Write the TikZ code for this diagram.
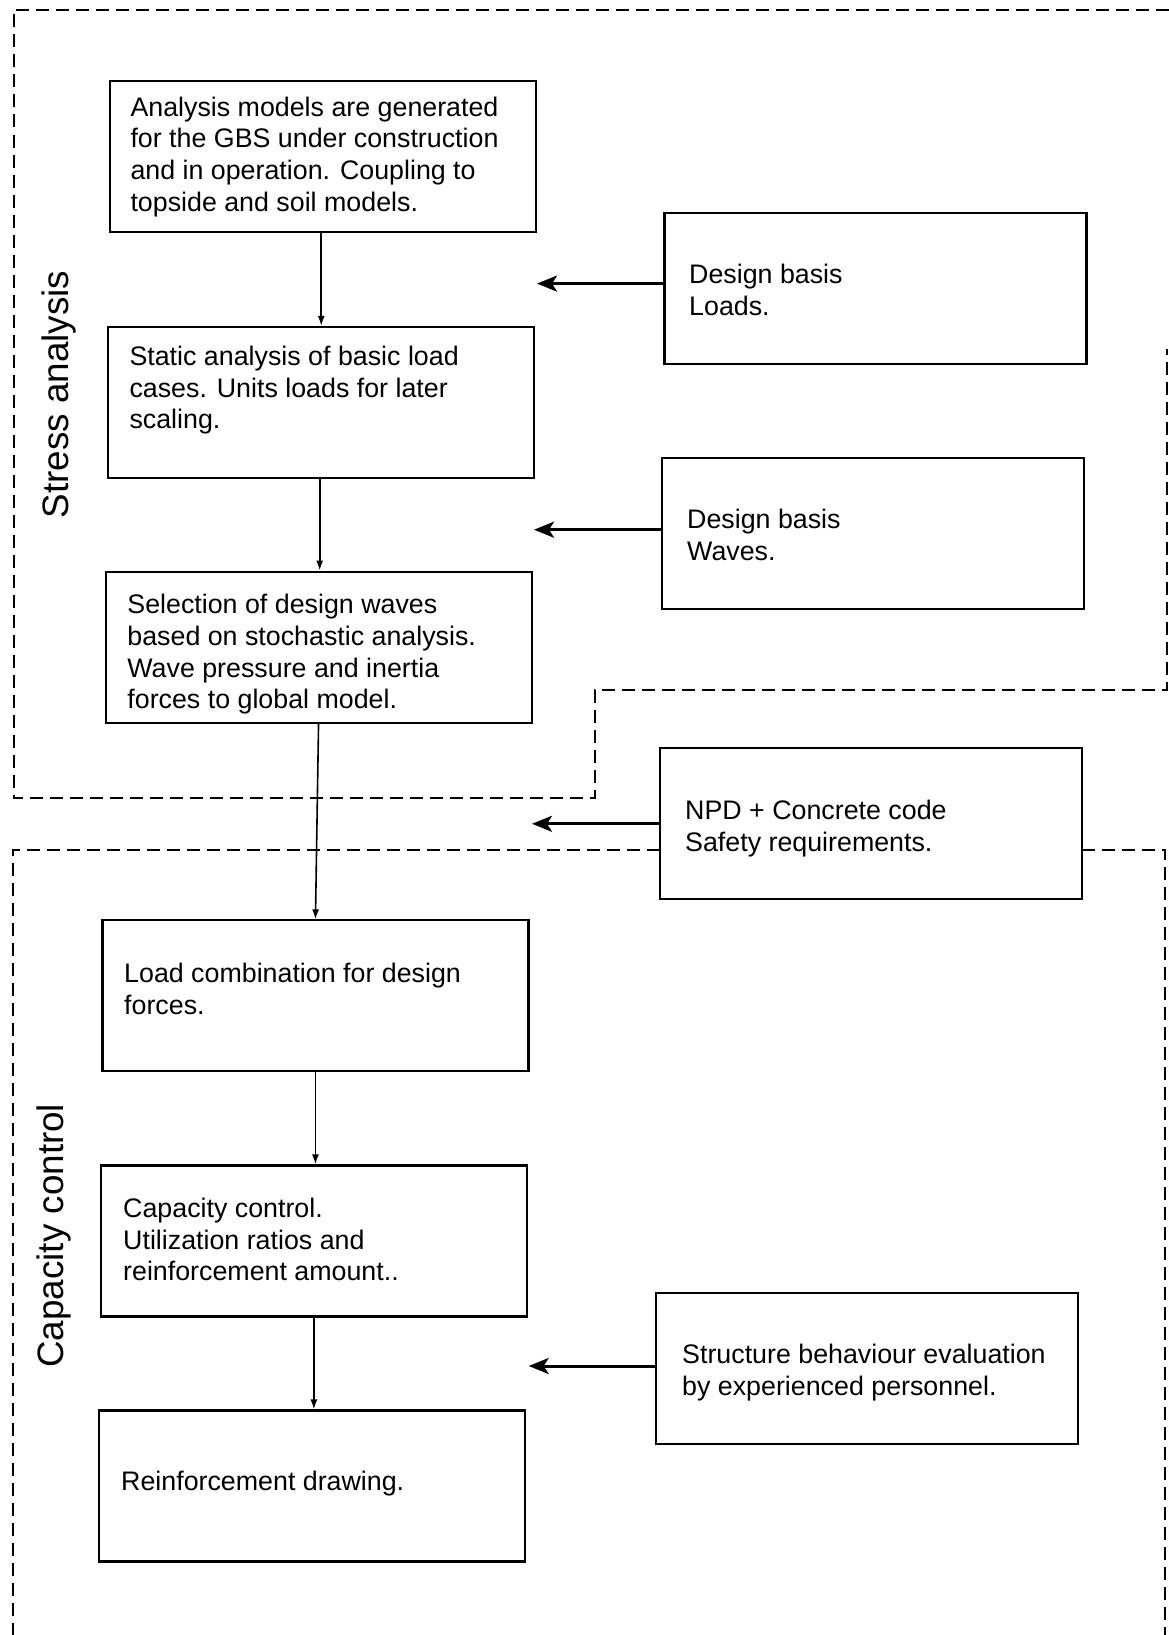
\documentclass[tikz,border=0pt]{standalone}
\usepackage{fontspec}
\setmainfont{Liberation Sans}
\usetikzlibrary{arrows.meta}
\begin{document}
\begin{tikzpicture}[x=1pt,y=-1pt,
  box/.style={draw=black, line width=2.1pt, inner sep=0pt, minimum width=426pt, minimum height=151pt},
  rbox/.style={draw=black, line width=2.1pt, inner sep=0pt, minimum width=422pt, minimum height=151pt},
  txt/.style={anchor=north west, inner sep=0pt, align=left, font=\fontsize{26.8}{31.8}\selectfont},
  sidelabel/.style={rotate=90, inner sep=0pt, font=\fontsize{36.8}{40}\selectfont},
  regionline/.style={line width=2pt, dash pattern=on 13pt off 7pt},
  smallarrow/.style={line width=1.6pt, -{Latex[length=10pt,width=7pt]}},
  bigarrow/.style={line width=3pt, -{Stealth[length=20pt,width=16pt,inset=5pt]}}
]
\useasboundingbox (0,0) rectangle (1169,1635);
\fill[white] (0,0) rectangle (1169,1635);

% dashed regions
\draw[regionline] (1169,10) -- (13.5,10) -- (13.5,798) -- (594.5,798) -- (594.5,689.5) -- (1167,689.5) -- (1167,349);
\draw[regionline] (660,850) -- (13,850) -- (13,1635);
\draw[regionline] (1082.4,850) -- (1165,850) -- (1165,1635);

% side labels
\node[sidelabel] (lab1) at (59.4,394.5) {Stress analysis};
\node[sidelabel] (lab2) at (54.2,1235.7) {Capacity control};

% main boxes
\node[box] (b1) at (322.75,156.9) {};
\node[box] (b2) at (320.7,402.5) {};
\node[box] (b3) at (318.55,647.1) {};
\node[box] (b4) at (315.45,995.9) {};
\node[box] (b5) at (313.9,1241) {};
\node[box] (b6) at (311.75,1486) {};

% right boxes
\node[rbox] (r1) at (875.45,288.35) {};
\node[rbox] (r2) at (873.35,533.4) {};
\node[rbox] (r3) at (871.2,823.35) {};
\node[rbox] (r4) at (867,1368.5) {};

% texts
\node[txt] (t1) at (130.3,96.4) {Analysis models are generated\\for the GBS under construction\\and in operation. Coupling to\\topside and soil models.};
\node[txt] (t2) at (129.3,345.6) {Static analysis of basic load\\cases. Units loads for later\\scaling.};
\node[txt] (t3) at (127.2,593.8) {Selection of design waves\\based on stochastic analysis.\\Wave pressure and inertia\\forces to global model.};
\node[txt] (t4) at (124,963) {Load combination for design\\forces.};
\node[txt] (t5) at (123,1197.6) {Capacity control.\\Utilization ratios and\\reinforcement amount..};
\node[txt] (t6) at (121,1470.8) {Reinforcement drawing.};
\node[txt] (tr1) at (689,264.3) {Design basis\\Loads.};
\node[txt] (tr2) at (687,509.3) {Design basis\\Waves.};
\node[txt] (tr3) at (685,800.3) {NPD + Concrete code\\Safety requirements.};
\node[txt] (tr4) at (682,1343.6) {Structure behaviour evaluation\\by experienced personnel.};

% vertical arrows
\draw[smallarrow] ([xshift=-1.5pt]b1.south) -- ([xshift=-1.5pt]b1.south |- b2.north);
\draw[smallarrow] ([xshift=-1pt]b2.south) -- ([xshift=-1pt]b2.south |- b3.north);
\draw[smallarrow] (b3.south) -- (b4.north);
\draw[smallarrow] (b4.south) -- (b4.south |- b5.north);
\draw[smallarrow] (b5.south) -- (b5.south |- b6.north);

% horizontal arrows
\coordinate (e1) at (537,283.6);
\coordinate (e2) at (534,529.7);
\coordinate (e3) at (532,823.8);
\coordinate (e4) at (528.7,1366);
\draw[bigarrow] (r1.west |- e1) -- (e1);
\draw[bigarrow] (r2.west |- e2) -- (e2);
\draw[bigarrow] (r3.west |- e3) -- (e3);
\draw[bigarrow] (r4.west |- e4) -- (e4);
\end{tikzpicture}
\end{document}
